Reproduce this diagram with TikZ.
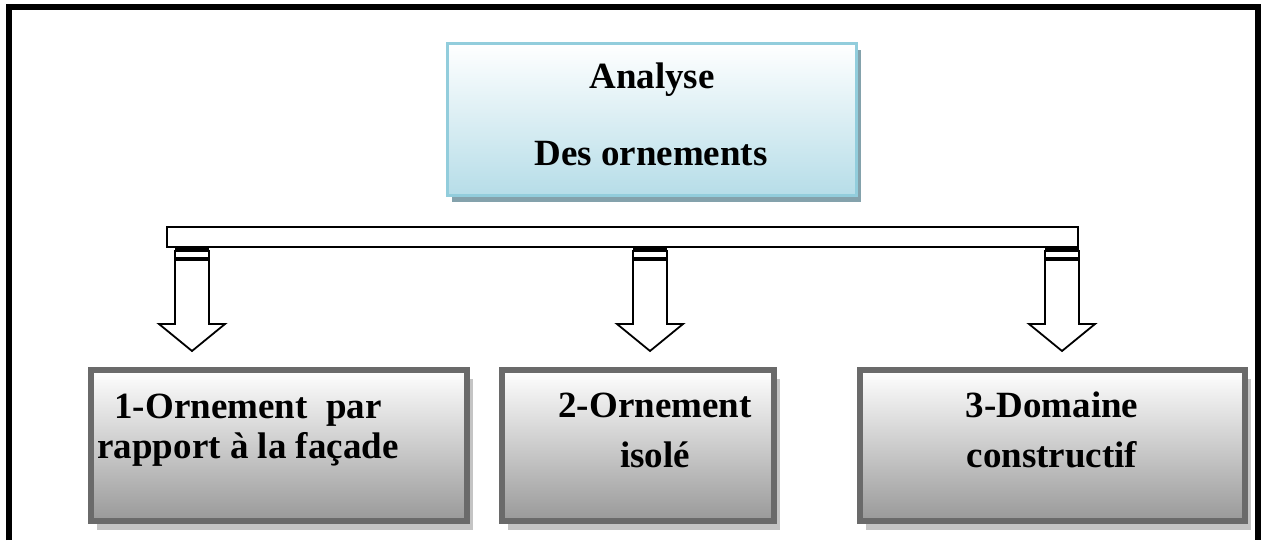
\documentclass[tikz,border=0pt]{standalone}
\usepackage{fontspec}
\setmainfont{Liberation Serif}
\usetikzlibrary{positioning,shadows}

\definecolor{aqualine}{RGB}{146,205,220}
\definecolor{aquafill}{RGB}{182,221,232}
\definecolor{aquashade}{RGB}{132,162,172}
\definecolor{boxline}{RGB}{106,106,106}
\definecolor{boxshade}{RGB}{196,196,196}

\begin{document}
\begin{tikzpicture}[x=0.5pt,y=-0.5pt,
    topbox/.style={rectangle,draw=aqualine,line width=1.5pt,top color=white,bottom color=aquafill,
      minimum width=204.5pt,minimum height=76pt,inner sep=0pt,
      drop shadow={shadow xshift=2.25pt,shadow yshift=-3.25pt,fill=aquashade,opacity=1}},
    greybox/.style={rectangle,draw=boxline,line width=3pt,top color=white,bottom color=black!40,
      minimum height=75.5pt,inner sep=0pt,
      drop shadow={shadow xshift=3pt,shadow yshift=-4.5pt,fill=boxshade,opacity=1}},
    lbl/.style={anchor=base,inner sep=0pt,font=\bfseries\fontsize{18.5}{22}\selectfont},
    blockarrow/.style={draw=black,line width=0.9pt,fill=white,line join=miter}]
\useasboundingbox (0,0) rectangle (1261,540);

% outer frame, open at the bottom
\draw[line width=3pt] (9,540) -- (9,7) -- (1258,7) -- (1258,540);

% title box
\node[topbox] (title) at (652,119.5) {};
\node[lbl] (title1) at (652,89) {Analyse};
\node[lbl] (title2) at (651,165) {Des ornements};

% horizontal bar
\node[draw,line width=0.6pt,fill=white,minimum width=455.5pt,minimum height=10pt,inner sep=0pt] (bar) at (622.5,237) {};

% feet and block arrows
\foreach \cx/\name in {192/a,650/b,1062/c}{
  \coordinate (\name) at (\cx,247);
  \fill (\name) ++(-17,0) rectangle ++(34,2.5);
  \draw[line width=0.6pt] (\name) ++(-17,4) rectangle ++(34,7);
  \draw[blockarrow] (\name) ++(-17,13) -- ++(0,64) -- ++(-16,0) -- ++(33,27)
    -- ++(33,-27) -- ++(-16,0) -- ++(0,-64) -- cycle;
}

% bottom boxes
\node[greybox,minimum width=188pt] (b1) at (279,445.5) {};
\node[greybox,minimum width=136pt] (b2) at (638,445.5) {};
\node[greybox,minimum width=192.5pt] (b3) at (1052.5,445.5) {};

\node[lbl] (b1a) at (248,418) {1-Ornement~ par};
\node[lbl] (b1b) at (248,458) {rapport à la façade};
\node[lbl] (b2a) at (655,417) {2-Ornement};
\node[lbl] (b2b) at (655,467) {isolé};
\node[lbl] (b3a) at (1052,417) {3-Domaine};
\node[lbl] (b3b) at (1052,467) {constructif};
\end{tikzpicture}
\end{document}
